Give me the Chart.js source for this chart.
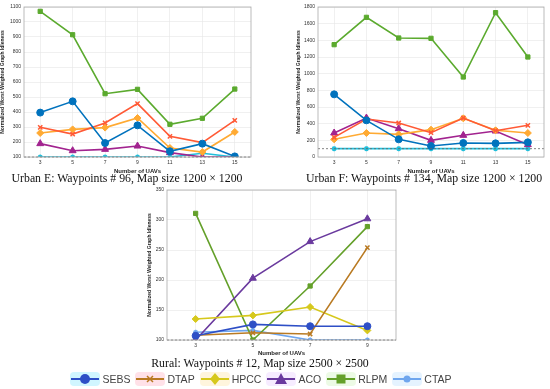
<!DOCTYPE html>
<html>
<head>
<meta charset="utf-8">
<script src="https://cdn.jsdelivr.net/npm/chart.js@4"></script>
<style>
  body { margin: 0; background: #fff; width: 550px; height: 389px; position: relative; overflow: hidden; }
  canvas { position: absolute; }
  .cap { position: absolute; font-family: "Liberation Serif", serif; font-size: 11.8px; color: #111; white-space: nowrap; text-align: center; }
  #legend { position: absolute; left: 0; width: 522px; top: 372px; display: flex; justify-content: center; gap: 5px;
            font-family: "Liberation Sans", Arial, sans-serif; font-size: 10.5px; color: #444; align-items: center; }
  #legend .it { display: flex; align-items: center; gap: 2px; }
</style>
</head>
<body>
<canvas id="urbanE" style="left:0;top:0"></canvas>
<canvas id="urbanF" style="left:275px;top:0"></canvas>
<canvas id="rural" style="left:140px;top:175px"></canvas>
<div class="cap" style="left:2px;top:171px;width:250px">Urban E: Waypoints # 96, Map size 1200 × 1200</div>
<div class="cap" style="left:306px;top:171px;width:230px">Urban F: Waypoints # 134, Map size 1200 × 1200</div>
<div class="cap" style="left:150px;top:356px;width:220px">Rural: Waypoints # 12, Map size 2500 × 2500</div>
<div id="legend"></div>
<script>
// x labels (number of UAVs)
const uavsUrban = ['3', '5', '7', '9', '11', '13', '15'];
const uavsRural = ['3', '5', '7', '9'];
const methods = ['SEBS', 'DTAP', 'HPCC', 'ACO', 'RLPM', 'CTAP'];

// Urban E
const urbanE_SEBS = [396, 471, 193, 311, 138, 189, 104];
const urbanE_DTAP = [298, 253, 327, 456, 238, 196, 344];
const urbanE_HPCC = [260, 284, 296, 360, 160, 133, 267];
const urbanE_ACO  = [189, 142, 151, 173, 129, 100, 100];
const urbanE_RLPM = [1071, 915, 522, 551, 318, 358, 553];
const urbanE_CTAP = [100, 100, 100, 100, 100, 125, 100];

// Urban F
const urbanF_SEBS = [752, 440, 212, 132, 168, 164, 176];
const urbanF_DTAP = [236, 456, 408, 292, 468, 316, 380];
const urbanF_HPCC = [212, 288, 272, 328, 464, 320, 288];
const urbanF_ACO  = [288, 468, 340, 200, 260, 312, 148];
const urbanF_RLPM = [1348, 1676, 1428, 1424, 960, 1732, 1200];
const urbanF_CTAP = [100, 100, 100, 100, 100, 100, 100];

// Rural
const rural_SEBS = [107, 126, 123, 123];
const rural_DTAP = [108, 112, 110, 254];
const rural_HPCC = [135, 141, 155, 116];
const rural_ACO  = [100, 203, 264, 302];
const rural_RLPM = [311, 100, 190, 289];
const rural_CTAP = [113, 116, 100, 100];

const urbanColors = ['#0072BD', '#FF5A36', '#FFAA33', '#A2238F', '#5BAA2E', '#22BFDB'];
const ruralColors = ['#2E4FC6', '#B97A22', '#D6C81C', '#6A3A9E', '#64A02A', '#6FA6EE'];
const pointStyles = ['circle', 'crossRot', 'rectRot', 'triangle', 'rect', 'star'];
const pointSizes = [3.5, 3, 3.5, 4, 3, 2.5];

// box around plot + dashed line at 100
const framePlugin = {
    id: 'frame',
    afterDraw: function (chart) {
        const a = chart.chartArea;
        const c = chart.ctx;
        c.save();
        const y = chart.scales.y.getPixelForValue(100);
        c.strokeStyle = '#666';
        c.lineWidth = 0.8;
        c.setLineDash([2, 2]);
        c.beginPath();
        c.moveTo(a.left, y);
        c.lineTo(a.right, y);
        c.stroke();
        c.setLineDash([]);
        c.strokeStyle = '#aaa';
        c.strokeRect(a.left, a.top, a.right - a.left, a.bottom - a.top);
        c.restore();
    }
};

function makeChart(id, w, h, pad, yWidth, xHeight, labels, series, colors, yMin, yMax, yStep) {
    const canvas = document.getElementById(id);
    canvas.width = w;
    canvas.height = h;
    canvas.style.width = w + 'px';
    canvas.style.height = h + 'px';
    return new Chart(canvas.getContext('2d'), {
        type: 'line',
        data: {
            labels: labels,
            datasets: series.map(function (s, i) {
                return {
                    label: methods[i],
                    data: s,
                    borderColor: colors[i],
                    backgroundColor: colors[i],
                    pointBackgroundColor: colors[i],
                    pointBorderColor: colors[i],
                    pointStyle: pointStyles[i],
                    pointRadius: pointSizes[i],
                    pointBorderWidth: i == 1 || i == 5 ? 1.5 : 1,
                    borderWidth: 1.6,
                    tension: 0,
                    order: i == 5 ? 10 : i
                };
            })
        },
        options: {
            responsive: false,
            animation: false,
            devicePixelRatio: 1,
            layout: { padding: pad },
            plugins: { legend: { display: false }, tooltip: { enabled: false } },
            scales: {
                x: {
                    type: 'category',
                    offset: true,
                    grid: { offset: false, color: '#e6e6e6', lineWidth: 0.6, drawTicks: false },
                    border: { display: false },
                    ticks: { font: { size: 5, family: 'Liberation Sans' }, color: '#333', padding: 3, maxRotation: 0 },
                    title: { display: true, text: 'Number of UAVs', font: { size: 6, weight: 'bold', family: 'Liberation Sans' }, color: '#222', padding: 0 },
                    afterFit: function (s) { s.height = xHeight; }
                },
                y: {
                    min: yMin,
                    max: yMax,
                    grid: { color: '#e6e6e6', lineWidth: 0.6, drawTicks: false },
                    border: { display: false },
                    ticks: { stepSize: yStep, font: { size: 5, family: 'Liberation Sans' }, color: '#333', padding: 3,
                             callback: function (v) { return String(v); } },
                    title: { display: true, text: 'Normalized Worst Weighted Graph Idleness', font: { size: 5, weight: 'bold', family: 'Liberation Sans' }, color: '#222', padding: 0 },
                    afterFit: function (s) { s.width = yWidth; }
                }
            }
        },
        plugins: [framePlugin]
    });
}

makeChart('urbanE', 260, 175, { left: 0, top: 7, right: 9, bottom: 0 }, 24, 18, uavsUrban,
    [urbanE_SEBS, urbanE_DTAP, urbanE_HPCC, urbanE_ACO, urbanE_RLPM, urbanE_CTAP], urbanColors, 100, 1100, 100);

makeChart('urbanF', 275, 175, { left: 21, top: 7, right: 6, bottom: 0 }, 22, 18, uavsUrban,
    [urbanF_SEBS, urbanF_DTAP, urbanF_HPCC, urbanF_ACO, urbanF_RLPM, urbanF_CTAP], urbanColors, 0, 1800, 200);

makeChart('rural', 270, 182, { left: 7, top: 15, right: 14, bottom: 0 }, 20, 17, uavsRural,
    [rural_SEBS, rural_DTAP, rural_HPCC, rural_ACO, rural_RLPM, rural_CTAP], ruralColors, 100, 350, 50);

// legend
const halo = ['rgba(120,230,255,0.35)', 'rgba(255,170,190,0.35)', 'rgba(255,230,170,0.4)', 'rgba(230,200,255,0.35)', 'rgba(200,240,180,0.35)', 'rgba(180,220,255,0.35)'];
const legend = document.getElementById('legend');
methods.forEach(function (m, i) {
    const col = ruralColors[i];
    let mark = '';
    if (i == 0) mark = '<circle cx="15" cy="7" r="5" fill="' + col + '"/>';
    if (i == 1) mark = '<path d="M12 4 L18 10 M18 4 L12 10" stroke="' + col + '" stroke-width="1.5"/>';
    if (i == 2) mark = '<path d="M15 1 L20 7 L15 13 L10 7 Z" fill="' + col + '"/>';
    if (i == 3) mark = '<path d="M15 1 L21 12 L9 12 Z" fill="' + col + '"/>';
    if (i == 4) mark = '<rect x="10.5" y="2.5" width="9" height="9" fill="' + col + '"/>';
    if (i == 5) mark = '<circle cx="15" cy="7" r="3.5" fill="' + col + '"/>';
    const it = document.createElement('div');
    it.className = 'it';
    it.innerHTML = '<svg width="30" height="14" style="background:' + halo[i] + ';border-radius:4px">' +
        '<line x1="1" y1="7" x2="29" y2="7" stroke="' + col + '" stroke-width="2"/>' + mark + '</svg><span>' + m + '</span>';
    legend.appendChild(it);
});
</script>
</body>
</html>
